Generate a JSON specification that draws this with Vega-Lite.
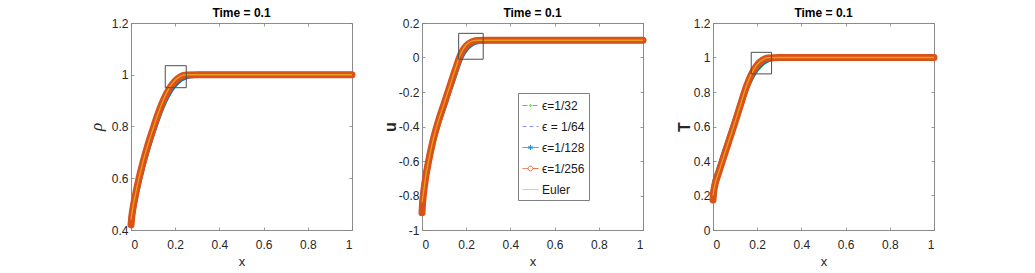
{
"$schema": "https://vega.github.io/schema/vega-lite/v6.json",
"padding": {"left": 86, "top": 6, "right": 0, "bottom": 0},
"bounds": "flush",
"spacing": 70,
"datasets": {
"curves": [
{"v":"rho","s":"ϵ=1/32","x":0,"y":0.44},{"v":"rho","s":"ϵ=1/32","x":0.01,"y":0.487},{"v":"rho","s":"ϵ=1/32","x":0.02,"y":0.53},{"v":"rho","s":"ϵ=1/32","x":0.035,"y":0.587},{"v":"rho","s":"ϵ=1/32","x":0.05,"y":0.638},{"v":"rho","s":"ϵ=1/32","x":0.075,"y":0.713},{"v":"rho","s":"ϵ=1/32","x":0.1,"y":0.779},{"v":"rho","s":"ϵ=1/32","x":0.125,"y":0.84},{"v":"rho","s":"ϵ=1/32","x":0.15,"y":0.892},{"v":"rho","s":"ϵ=1/32","x":0.175,"y":0.932},{"v":"rho","s":"ϵ=1/32","x":0.2,"y":0.96},{"v":"rho","s":"ϵ=1/32","x":0.225,"y":0.98},{"v":"rho","s":"ϵ=1/32","x":0.25,"y":0.992},{"v":"rho","s":"ϵ=1/32","x":0.275,"y":0.998},{"v":"rho","s":"ϵ=1/32","x":0.3,"y":1},{"v":"rho","s":"ϵ=1/32","x":1,"y":1},
{"v":"rho","s":"ϵ = 1/64","x":0,"y":0.43},{"v":"rho","s":"ϵ = 1/64","x":0.01,"y":0.487},{"v":"rho","s":"ϵ = 1/64","x":0.02,"y":0.532},{"v":"rho","s":"ϵ = 1/64","x":0.035,"y":0.59},{"v":"rho","s":"ϵ = 1/64","x":0.05,"y":0.643},{"v":"rho","s":"ϵ = 1/64","x":0.075,"y":0.72},{"v":"rho","s":"ϵ = 1/64","x":0.1,"y":0.787},{"v":"rho","s":"ϵ = 1/64","x":0.125,"y":0.85},{"v":"rho","s":"ϵ = 1/64","x":0.15,"y":0.902},{"v":"rho","s":"ϵ = 1/64","x":0.175,"y":0.942},{"v":"rho","s":"ϵ = 1/64","x":0.2,"y":0.97},{"v":"rho","s":"ϵ = 1/64","x":0.225,"y":0.988},{"v":"rho","s":"ϵ = 1/64","x":0.25,"y":0.996},{"v":"rho","s":"ϵ = 1/64","x":0.3,"y":1},{"v":"rho","s":"ϵ = 1/64","x":1,"y":1},
{"v":"rho","s":"ϵ=1/128","x":0,"y":0.43},{"v":"rho","s":"ϵ=1/128","x":0.004,"y":0.455},{"v":"rho","s":"ϵ=1/128","x":0.01,"y":0.485},{"v":"rho","s":"ϵ=1/128","x":0.02,"y":0.53},{"v":"rho","s":"ϵ=1/128","x":0.035,"y":0.588},{"v":"rho","s":"ϵ=1/128","x":0.05,"y":0.64},{"v":"rho","s":"ϵ=1/128","x":0.075,"y":0.716},{"v":"rho","s":"ϵ=1/128","x":0.1,"y":0.783},{"v":"rho","s":"ϵ=1/128","x":0.125,"y":0.845},{"v":"rho","s":"ϵ=1/128","x":0.15,"y":0.897},{"v":"rho","s":"ϵ=1/128","x":0.175,"y":0.937},{"v":"rho","s":"ϵ=1/128","x":0.2,"y":0.965},{"v":"rho","s":"ϵ=1/128","x":0.225,"y":0.984},{"v":"rho","s":"ϵ=1/128","x":0.25,"y":0.994},{"v":"rho","s":"ϵ=1/128","x":0.275,"y":0.998},{"v":"rho","s":"ϵ=1/128","x":0.3,"y":1},{"v":"rho","s":"ϵ=1/128","x":1,"y":1},
{"v":"rho","s":"ϵ=1/256","x":0,"y":0.42},{"v":"rho","s":"ϵ=1/256","x":0.004,"y":0.455},{"v":"rho","s":"ϵ=1/256","x":0.01,"y":0.49},{"v":"rho","s":"ϵ=1/256","x":0.02,"y":0.535},{"v":"rho","s":"ϵ=1/256","x":0.035,"y":0.595},{"v":"rho","s":"ϵ=1/256","x":0.05,"y":0.648},{"v":"rho","s":"ϵ=1/256","x":0.075,"y":0.725},{"v":"rho","s":"ϵ=1/256","x":0.1,"y":0.792},{"v":"rho","s":"ϵ=1/256","x":0.125,"y":0.855},{"v":"rho","s":"ϵ=1/256","x":0.15,"y":0.908},{"v":"rho","s":"ϵ=1/256","x":0.175,"y":0.948},{"v":"rho","s":"ϵ=1/256","x":0.2,"y":0.976},{"v":"rho","s":"ϵ=1/256","x":0.225,"y":0.993},{"v":"rho","s":"ϵ=1/256","x":0.25,"y":0.999},{"v":"rho","s":"ϵ=1/256","x":0.3,"y":1},{"v":"rho","s":"ϵ=1/256","x":0.6,"y":1},{"v":"rho","s":"ϵ=1/256","x":1,"y":1},
{"v":"rho","s":"Euler","x":0,"y":0.44},{"v":"rho","s":"Euler","x":0.01,"y":0.495},{"v":"rho","s":"Euler","x":0.02,"y":0.538},{"v":"rho","s":"Euler","x":0.035,"y":0.597},{"v":"rho","s":"Euler","x":0.05,"y":0.65},{"v":"rho","s":"Euler","x":0.075,"y":0.726},{"v":"rho","s":"Euler","x":0.1,"y":0.793},{"v":"rho","s":"Euler","x":0.125,"y":0.856},{"v":"rho","s":"Euler","x":0.15,"y":0.91},{"v":"rho","s":"Euler","x":0.175,"y":0.952},{"v":"rho","s":"Euler","x":0.2,"y":0.98},{"v":"rho","s":"Euler","x":0.225,"y":0.995},{"v":"rho","s":"Euler","x":0.25,"y":1},{"v":"rho","s":"Euler","x":0.3,"y":1},{"v":"rho","s":"Euler","x":1,"y":1},

{"v":"u","s":"ϵ=1/32","x":0,"y":-0.85},{"v":"u","s":"ϵ=1/32","x":0.006,"y":-0.785},{"v":"u","s":"ϵ=1/32","x":0.016,"y":-0.69},{"v":"u","s":"ϵ=1/32","x":0.03,"y":-0.597},{"v":"u","s":"ϵ=1/32","x":0.05,"y":-0.483},{"v":"u","s":"ϵ=1/32","x":0.075,"y":-0.372},{"v":"u","s":"ϵ=1/32","x":0.1,"y":-0.278},{"v":"u","s":"ϵ=1/32","x":0.125,"y":-0.183},{"v":"u","s":"ϵ=1/32","x":0.15,"y":-0.09},{"v":"u","s":"ϵ=1/32","x":0.175,"y":-0.002},{"v":"u","s":"ϵ=1/32","x":0.2,"y":0.05},{"v":"u","s":"ϵ=1/32","x":0.225,"y":0.079},{"v":"u","s":"ϵ=1/32","x":0.25,"y":0.092},{"v":"u","s":"ϵ=1/32","x":0.275,"y":0.097},{"v":"u","s":"ϵ=1/32","x":0.3,"y":0.1},{"v":"u","s":"ϵ=1/32","x":1,"y":0.1},
{"v":"u","s":"ϵ = 1/64","x":0,"y":-0.86},{"v":"u","s":"ϵ = 1/64","x":0.006,"y":-0.79},{"v":"u","s":"ϵ = 1/64","x":0.016,"y":-0.697},{"v":"u","s":"ϵ = 1/64","x":0.03,"y":-0.6},{"v":"u","s":"ϵ = 1/64","x":0.05,"y":-0.483},{"v":"u","s":"ϵ = 1/64","x":0.075,"y":-0.369},{"v":"u","s":"ϵ = 1/64","x":0.1,"y":-0.273},{"v":"u","s":"ϵ = 1/64","x":0.125,"y":-0.176},{"v":"u","s":"ϵ = 1/64","x":0.15,"y":-0.08},{"v":"u","s":"ϵ = 1/64","x":0.175,"y":0.01},{"v":"u","s":"ϵ = 1/64","x":0.2,"y":0.062},{"v":"u","s":"ϵ = 1/64","x":0.225,"y":0.087},{"v":"u","s":"ϵ = 1/64","x":0.25,"y":0.097},{"v":"u","s":"ϵ = 1/64","x":0.3,"y":0.1},{"v":"u","s":"ϵ = 1/64","x":1,"y":0.1},
{"v":"u","s":"ϵ=1/128","x":0,"y":-0.87},{"v":"u","s":"ϵ=1/128","x":0.006,"y":-0.79},{"v":"u","s":"ϵ=1/128","x":0.016,"y":-0.695},{"v":"u","s":"ϵ=1/128","x":0.03,"y":-0.6},{"v":"u","s":"ϵ=1/128","x":0.05,"y":-0.485},{"v":"u","s":"ϵ=1/128","x":0.075,"y":-0.372},{"v":"u","s":"ϵ=1/128","x":0.1,"y":-0.277},{"v":"u","s":"ϵ=1/128","x":0.125,"y":-0.18},{"v":"u","s":"ϵ=1/128","x":0.15,"y":-0.086},{"v":"u","s":"ϵ=1/128","x":0.175,"y":0.003},{"v":"u","s":"ϵ=1/128","x":0.2,"y":0.055},{"v":"u","s":"ϵ=1/128","x":0.225,"y":0.082},{"v":"u","s":"ϵ=1/128","x":0.25,"y":0.094},{"v":"u","s":"ϵ=1/128","x":0.275,"y":0.098},{"v":"u","s":"ϵ=1/128","x":0.3,"y":0.1},{"v":"u","s":"ϵ=1/128","x":1,"y":0.1},
{"v":"u","s":"ϵ=1/256","x":0,"y":-0.9},{"v":"u","s":"ϵ=1/256","x":0.002,"y":-0.855},{"v":"u","s":"ϵ=1/256","x":0.006,"y":-0.8},{"v":"u","s":"ϵ=1/256","x":0.016,"y":-0.7},{"v":"u","s":"ϵ=1/256","x":0.03,"y":-0.6},{"v":"u","s":"ϵ=1/256","x":0.05,"y":-0.48},{"v":"u","s":"ϵ=1/256","x":0.075,"y":-0.365},{"v":"u","s":"ϵ=1/256","x":0.1,"y":-0.268},{"v":"u","s":"ϵ=1/256","x":0.125,"y":-0.17},{"v":"u","s":"ϵ=1/256","x":0.15,"y":-0.073},{"v":"u","s":"ϵ=1/256","x":0.175,"y":0.018},{"v":"u","s":"ϵ=1/256","x":0.2,"y":0.068},{"v":"u","s":"ϵ=1/256","x":0.225,"y":0.091},{"v":"u","s":"ϵ=1/256","x":0.25,"y":0.099},{"v":"u","s":"ϵ=1/256","x":0.3,"y":0.1},{"v":"u","s":"ϵ=1/256","x":0.6,"y":0.1},{"v":"u","s":"ϵ=1/256","x":1,"y":0.1},
{"v":"u","s":"Euler","x":0,"y":-0.84},{"v":"u","s":"Euler","x":0.006,"y":-0.79},{"v":"u","s":"Euler","x":0.016,"y":-0.695},{"v":"u","s":"Euler","x":0.03,"y":-0.598},{"v":"u","s":"Euler","x":0.05,"y":-0.478},{"v":"u","s":"Euler","x":0.075,"y":-0.363},{"v":"u","s":"Euler","x":0.1,"y":-0.266},{"v":"u","s":"Euler","x":0.125,"y":-0.168},{"v":"u","s":"Euler","x":0.15,"y":-0.07},{"v":"u","s":"Euler","x":0.175,"y":0.022},{"v":"u","s":"Euler","x":0.2,"y":0.074},{"v":"u","s":"Euler","x":0.225,"y":0.095},{"v":"u","s":"Euler","x":0.25,"y":0.1},{"v":"u","s":"Euler","x":0.3,"y":0.1},{"v":"u","s":"Euler","x":1,"y":0.1},

{"v":"T","s":"ϵ=1/32","x":0,"y":0.21},{"v":"T","s":"ϵ=1/32","x":0.01,"y":0.285},{"v":"T","s":"ϵ=1/32","x":0.025,"y":0.345},{"v":"T","s":"ϵ=1/32","x":0.05,"y":0.442},{"v":"T","s":"ϵ=1/32","x":0.075,"y":0.537},{"v":"T","s":"ϵ=1/32","x":0.1,"y":0.632},{"v":"T","s":"ϵ=1/32","x":0.125,"y":0.726},{"v":"T","s":"ϵ=1/32","x":0.15,"y":0.814},{"v":"T","s":"ϵ=1/32","x":0.175,"y":0.876},{"v":"T","s":"ϵ=1/32","x":0.2,"y":0.925},{"v":"T","s":"ϵ=1/32","x":0.225,"y":0.96},{"v":"T","s":"ϵ=1/32","x":0.25,"y":0.982},{"v":"T","s":"ϵ=1/32","x":0.275,"y":0.993},{"v":"T","s":"ϵ=1/32","x":0.3,"y":0.998},{"v":"T","s":"ϵ=1/32","x":0.35,"y":1},{"v":"T","s":"ϵ=1/32","x":1,"y":1},
{"v":"T","s":"ϵ = 1/64","x":0,"y":0.2},{"v":"T","s":"ϵ = 1/64","x":0.01,"y":0.278},{"v":"T","s":"ϵ = 1/64","x":0.025,"y":0.338},{"v":"T","s":"ϵ = 1/64","x":0.05,"y":0.436},{"v":"T","s":"ϵ = 1/64","x":0.075,"y":0.532},{"v":"T","s":"ϵ = 1/64","x":0.1,"y":0.628},{"v":"T","s":"ϵ = 1/64","x":0.125,"y":0.725},{"v":"T","s":"ϵ = 1/64","x":0.15,"y":0.818},{"v":"T","s":"ϵ = 1/64","x":0.175,"y":0.886},{"v":"T","s":"ϵ = 1/64","x":0.2,"y":0.936},{"v":"T","s":"ϵ = 1/64","x":0.225,"y":0.968},{"v":"T","s":"ϵ = 1/64","x":0.25,"y":0.987},{"v":"T","s":"ϵ = 1/64","x":0.275,"y":0.996},{"v":"T","s":"ϵ = 1/64","x":0.3,"y":1},{"v":"T","s":"ϵ = 1/64","x":1,"y":1},
{"v":"T","s":"ϵ=1/128","x":0,"y":0.2},{"v":"T","s":"ϵ=1/128","x":0.01,"y":0.28},{"v":"T","s":"ϵ=1/128","x":0.025,"y":0.34},{"v":"T","s":"ϵ=1/128","x":0.05,"y":0.438},{"v":"T","s":"ϵ=1/128","x":0.075,"y":0.534},{"v":"T","s":"ϵ=1/128","x":0.1,"y":0.63},{"v":"T","s":"ϵ=1/128","x":0.125,"y":0.727},{"v":"T","s":"ϵ=1/128","x":0.15,"y":0.822},{"v":"T","s":"ϵ=1/128","x":0.175,"y":0.892},{"v":"T","s":"ϵ=1/128","x":0.2,"y":0.942},{"v":"T","s":"ϵ=1/128","x":0.225,"y":0.973},{"v":"T","s":"ϵ=1/128","x":0.25,"y":0.99},{"v":"T","s":"ϵ=1/128","x":0.275,"y":0.997},{"v":"T","s":"ϵ=1/128","x":0.3,"y":1},{"v":"T","s":"ϵ=1/128","x":1,"y":1},
{"v":"T","s":"ϵ=1/256","x":0,"y":0.174},{"v":"T","s":"ϵ=1/256","x":0.003,"y":0.22},{"v":"T","s":"ϵ=1/256","x":0.01,"y":0.268},{"v":"T","s":"ϵ=1/256","x":0.025,"y":0.33},{"v":"T","s":"ϵ=1/256","x":0.05,"y":0.43},{"v":"T","s":"ϵ=1/256","x":0.075,"y":0.528},{"v":"T","s":"ϵ=1/256","x":0.1,"y":0.626},{"v":"T","s":"ϵ=1/256","x":0.125,"y":0.728},{"v":"T","s":"ϵ=1/256","x":0.15,"y":0.828},{"v":"T","s":"ϵ=1/256","x":0.175,"y":0.905},{"v":"T","s":"ϵ=1/256","x":0.2,"y":0.957},{"v":"T","s":"ϵ=1/256","x":0.225,"y":0.985},{"v":"T","s":"ϵ=1/256","x":0.25,"y":0.997},{"v":"T","s":"ϵ=1/256","x":0.3,"y":1},{"v":"T","s":"ϵ=1/256","x":0.6,"y":1},{"v":"T","s":"ϵ=1/256","x":1,"y":1},
{"v":"T","s":"Euler","x":0,"y":0.2},{"v":"T","s":"Euler","x":0.01,"y":0.27},{"v":"T","s":"Euler","x":0.025,"y":0.332},{"v":"T","s":"Euler","x":0.05,"y":0.432},{"v":"T","s":"Euler","x":0.075,"y":0.53},{"v":"T","s":"Euler","x":0.1,"y":0.628},{"v":"T","s":"Euler","x":0.125,"y":0.73},{"v":"T","s":"Euler","x":0.15,"y":0.83},{"v":"T","s":"Euler","x":0.175,"y":0.908},{"v":"T","s":"Euler","x":0.2,"y":0.96},{"v":"T","s":"Euler","x":0.225,"y":0.988},{"v":"T","s":"Euler","x":0.25,"y":0.999},{"v":"T","s":"Euler","x":0.3,"y":1},{"v":"T","s":"Euler","x":1,"y":1}
],
"boxes": [
{"v":"rho","x1":0.155,"x2":0.25,"y1":0.95,"y2":1.035},
{"v":"u","x1":0.166,"x2":0.277,"y1":-0.01,"y2":0.14},
{"v":"T","x1":0.173,"x2":0.265,"y1":0.905,"y2":1.03}
]
},
"hconcat": [
{
"width": 221, "height": 207,
"title": "Time = 0.1",
"layer": [
{"data": {"name": "curves"}, "transform": [{"filter": "datum.v === 'rho'"}],
 "mark": {"type": "line", "strokeWidth": 1, "interpolate": "monotone"},
 "encoding": {
  "x": {"field": "x", "type": "quantitative", "scale": {"domain": [0, 1], "nice": false}, "axis": {"values": [0, 0.2, 0.4, 0.6, 0.8, 1], "labelExpr": "'' + datum.value", "title": "x"}},
  "y": {"field": "y", "type": "quantitative", "scale": {"domain": [0.4, 1.2], "nice": false, "zero": false}, "axis": {"values": [0.4, 0.6, 0.8, 1, 1.2], "labelExpr": "'' + datum.value", "title": "ρ", "titleFont": "Liberation Serif", "titleFontStyle": "italic", "titleFontSize": 17, "titlePadding": 6}},
  "color": {"field": "s", "type": "nominal", "scale": {"domain": ["ϵ=1/32", "ϵ = 1/64", "ϵ=1/128", "ϵ=1/256", "Euler"], "range": ["#1ed41e", "#8080ff", "#0072BD", "#D95319", "#EDB120"]}, "legend": null},
  "strokeDash": {"field": "s", "type": "nominal", "scale": {"domain": ["ϵ=1/32", "ϵ = 1/64", "ϵ=1/128", "ϵ=1/256", "Euler"], "range": [[5, 2, 1, 2], [4, 3], [1, 0], [1, 0], [1, 0]]}, "legend": null}
 }},
{"data": {"name": "curves"}, "transform": [{"filter": "datum.v === 'rho' && datum.s === 'ϵ=1/32'"}],
 "mark": {"type": "line", "color": "#1ed41e", "strokeWidth": 3, "strokeCap": "round", "interpolate": "monotone"},
 "encoding": {"x": {"field": "x", "type": "quantitative", "axis": null}, "y": {"field": "y", "type": "quantitative", "axis": null}}},
{"data": {"name": "curves"}, "transform": [{"filter": "datum.v === 'rho' && datum.s === 'ϵ=1/128'"}],
 "mark": {"type": "line", "color": "#0072BD", "strokeWidth": 6, "strokeCap": "round", "interpolate": "monotone"},
 "encoding": {"x": {"field": "x", "type": "quantitative", "axis": null}, "y": {"field": "y", "type": "quantitative", "axis": null}}},
{"data": {"name": "curves"}, "transform": [{"filter": "datum.v === 'rho' && datum.s === 'ϵ=1/256'"}],
 "mark": {"type": "line", "color": "#D95319", "strokeWidth": 7, "strokeCap": "round", "interpolate": "monotone"},
 "encoding": {"x": {"field": "x", "type": "quantitative", "axis": null}, "y": {"field": "y", "type": "quantitative", "axis": null}}},
{"data": {"name": "curves"}, "transform": [{"filter": "datum.v === 'rho' && datum.s === 'Euler'"}],
 "mark": {"type": "line", "color": "#EDB120", "strokeWidth": 1.3, "opacity": 0.8, "interpolate": "monotone"},
 "encoding": {"x": {"field": "x", "type": "quantitative", "axis": null}, "y": {"field": "y", "type": "quantitative", "axis": null}}},
{"data": {"name": "curves"}, "transform": [{"filter": "datum.v === 'rho' && datum.s === 'ϵ=1/256' && datum.x === 0"}],
 "mark": {"type": "point", "shape": "circle", "filled": false, "color": "#D95319", "size": 28, "strokeWidth": 1},
 "encoding": {"x": {"field": "x", "type": "quantitative", "axis": null}, "y": {"field": "y", "type": "quantitative", "axis": null}}},
{"data": {"name": "boxes"}, "transform": [{"filter": "datum.v === 'rho'"}],
 "mark": {"type": "rect", "filled": false, "stroke": "#4d4d4d", "strokeWidth": 1},
 "encoding": {
  "x": {"field": "x1", "type": "quantitative", "axis": {"orient": "top", "values": [0, 0.2, 0.4, 0.6, 0.8, 1], "labels": false, "title": null}},
  "x2": {"field": "x2"},
  "y": {"field": "y1", "type": "quantitative", "axis": {"orient": "right", "values": [0.4, 0.6, 0.8, 1, 1.2], "labels": false, "title": null}},
  "y2": {"field": "y2"}
 }}
],
"resolve": {"axis": {"x": "independent", "y": "independent"}}
},
{
"width": 221, "height": 207,
"title": "Time = 0.1",
"layer": [
{"data": {"name": "curves"}, "transform": [{"filter": "datum.v === 'u'"}],
 "mark": {"type": "line", "strokeWidth": 1, "interpolate": "monotone"},
 "encoding": {
  "x": {"field": "x", "type": "quantitative", "scale": {"domain": [0, 1], "nice": false}, "axis": {"values": [0, 0.2, 0.4, 0.6, 0.8, 1], "labelExpr": "'' + datum.value", "title": "x"}},
  "y": {"field": "y", "type": "quantitative", "scale": {"domain": [-1, 0.2], "nice": false, "zero": false}, "axis": {"values": [-1, -0.8, -0.6, -0.4, -0.2, 0, 0.2], "labelExpr": "'' + datum.value", "title": "u", "titleFontWeight": "bold", "titleFontSize": 16, "titlePadding": 0}},
  "color": {"field": "s", "type": "nominal", "scale": {"domain": ["ϵ=1/32", "ϵ = 1/64", "ϵ=1/128", "ϵ=1/256", "Euler"], "range": ["#1ed41e", "#8080ff", "#0072BD", "#D95319", "#EDB120"]},
   "legend": {"title": null, "orient": "none", "legendX": 96, "legendY": 70, "padding": 4, "strokeColor": "#7f7f7f", "fillColor": "#ffffff", "labelFont": "Liberation Sans", "labelFontSize": 12, "labelColor": "#1a1a1a", "symbolSize": 256, "symbolStrokeWidth": 1, "rowPadding": 6, "labelOffset": 3, "symbolType": "stroke",
    "encode": {"symbols": {"update": {
      "shape": {"signal": "datum.value === 'ϵ=1/256' ? 'M-1,0H-0.3M0.3,0H1M0.3,0A0.3,0.3 0 1,1 -0.3,0A0.3,0.3 0 1,1 0.3,0' : datum.value === 'ϵ=1/128' ? 'M-1,0H1M0,-0.32V0.32M-0.28,-0.16L0.28,0.16M-0.28,0.16L0.28,-0.16' : datum.value === 'ϵ=1/32' ? 'M-1,0H1M0.12,0A0.12,0.12 0 1,1 -0.12,0A0.12,0.12 0 1,1 0.12,0' : 'M-1,0H1'"},
      "strokeDash": {"signal": "datum.value === 'ϵ=1/32' ? [5, 2, 1, 2] : datum.value === 'ϵ = 1/64' ? [4, 3] : [1, 0]"},
      "strokeWidth": {"value": 1},
      "opacity": {"value": 0.85}
    }}}}},
  "strokeDash": {"field": "s", "type": "nominal", "scale": {"domain": ["ϵ=1/32", "ϵ = 1/64", "ϵ=1/128", "ϵ=1/256", "Euler"], "range": [[5, 2, 1, 2], [4, 3], [1, 0], [1, 0], [1, 0]]}, "legend": null}
 }},
{"data": {"name": "curves"}, "transform": [{"filter": "datum.v === 'u' && datum.s === 'ϵ=1/32'"}],
 "mark": {"type": "line", "color": "#1ed41e", "strokeWidth": 3, "strokeCap": "round", "interpolate": "monotone"},
 "encoding": {"x": {"field": "x", "type": "quantitative", "axis": null}, "y": {"field": "y", "type": "quantitative", "axis": null}}},
{"data": {"name": "curves"}, "transform": [{"filter": "datum.v === 'u' && datum.s === 'ϵ=1/128'"}],
 "mark": {"type": "line", "color": "#0072BD", "strokeWidth": 6, "strokeCap": "round", "interpolate": "monotone"},
 "encoding": {"x": {"field": "x", "type": "quantitative", "axis": null}, "y": {"field": "y", "type": "quantitative", "axis": null}}},
{"data": {"name": "curves"}, "transform": [{"filter": "datum.v === 'u' && datum.s === 'ϵ=1/256'"}],
 "mark": {"type": "line", "color": "#D95319", "strokeWidth": 7, "strokeCap": "round", "interpolate": "monotone"},
 "encoding": {"x": {"field": "x", "type": "quantitative", "axis": null}, "y": {"field": "y", "type": "quantitative", "axis": null}}},
{"data": {"name": "curves"}, "transform": [{"filter": "datum.v === 'u' && datum.s === 'Euler'"}],
 "mark": {"type": "line", "color": "#EDB120", "strokeWidth": 1.3, "opacity": 0.8, "interpolate": "monotone"},
 "encoding": {"x": {"field": "x", "type": "quantitative", "axis": null}, "y": {"field": "y", "type": "quantitative", "axis": null}}},
{"data": {"name": "curves"}, "transform": [{"filter": "datum.v === 'u' && datum.s === 'ϵ=1/256' && datum.x === 0"}],
 "mark": {"type": "point", "shape": "circle", "filled": false, "color": "#D95319", "size": 28, "strokeWidth": 1},
 "encoding": {"x": {"field": "x", "type": "quantitative", "axis": null}, "y": {"field": "y", "type": "quantitative", "axis": null}}},
{"data": {"name": "boxes"}, "transform": [{"filter": "datum.v === 'u'"}],
 "mark": {"type": "rect", "filled": false, "stroke": "#4d4d4d", "strokeWidth": 1},
 "encoding": {
  "x": {"field": "x1", "type": "quantitative", "axis": {"orient": "top", "values": [0, 0.2, 0.4, 0.6, 0.8, 1], "labels": false, "title": null}},
  "x2": {"field": "x2"},
  "y": {"field": "y1", "type": "quantitative", "axis": {"orient": "right", "values": [-1, -0.8, -0.6, -0.4, -0.2, 0, 0.2], "labels": false, "title": null}},
  "y2": {"field": "y2"}
 }}
],
"resolve": {"axis": {"x": "independent", "y": "independent"}}
},
{
"width": 221, "height": 207,
"title": "Time = 0.1",
"layer": [
{"data": {"name": "curves"}, "transform": [{"filter": "datum.v === 'T'"}],
 "mark": {"type": "line", "strokeWidth": 1, "interpolate": "monotone"},
 "encoding": {
  "x": {"field": "x", "type": "quantitative", "scale": {"domain": [0, 1], "nice": false}, "axis": {"values": [0, 0.2, 0.4, 0.6, 0.8, 1], "labelExpr": "'' + datum.value", "title": "x"}},
  "y": {"field": "y", "type": "quantitative", "scale": {"domain": [0, 1.2], "nice": false, "zero": false}, "axis": {"values": [0, 0.2, 0.4, 0.6, 0.8, 1, 1.2], "labelExpr": "'' + datum.value", "title": "T", "titleFontWeight": "bold", "titleFontSize": 16, "titlePadding": 1}},
  "color": {"field": "s", "type": "nominal", "scale": {"domain": ["ϵ=1/32", "ϵ = 1/64", "ϵ=1/128", "ϵ=1/256", "Euler"], "range": ["#1ed41e", "#8080ff", "#0072BD", "#D95319", "#EDB120"]}, "legend": null},
  "strokeDash": {"field": "s", "type": "nominal", "scale": {"domain": ["ϵ=1/32", "ϵ = 1/64", "ϵ=1/128", "ϵ=1/256", "Euler"], "range": [[5, 2, 1, 2], [4, 3], [1, 0], [1, 0], [1, 0]]}, "legend": null}
 }},
{"data": {"name": "curves"}, "transform": [{"filter": "datum.v === 'T' && datum.s === 'ϵ=1/32'"}],
 "mark": {"type": "line", "color": "#1ed41e", "strokeWidth": 3, "strokeCap": "round", "interpolate": "monotone"},
 "encoding": {"x": {"field": "x", "type": "quantitative", "axis": null}, "y": {"field": "y", "type": "quantitative", "axis": null}}},
{"data": {"name": "curves"}, "transform": [{"filter": "datum.v === 'T' && datum.s === 'ϵ=1/128'"}],
 "mark": {"type": "line", "color": "#0072BD", "strokeWidth": 6, "strokeCap": "round", "interpolate": "monotone"},
 "encoding": {"x": {"field": "x", "type": "quantitative", "axis": null}, "y": {"field": "y", "type": "quantitative", "axis": null}}},
{"data": {"name": "curves"}, "transform": [{"filter": "datum.v === 'T' && datum.s === 'ϵ=1/256'"}],
 "mark": {"type": "line", "color": "#D95319", "strokeWidth": 7, "strokeCap": "round", "interpolate": "monotone"},
 "encoding": {"x": {"field": "x", "type": "quantitative", "axis": null}, "y": {"field": "y", "type": "quantitative", "axis": null}}},
{"data": {"name": "curves"}, "transform": [{"filter": "datum.v === 'T' && datum.s === 'Euler'"}],
 "mark": {"type": "line", "color": "#EDB120", "strokeWidth": 1.3, "opacity": 0.8, "interpolate": "monotone"},
 "encoding": {"x": {"field": "x", "type": "quantitative", "axis": null}, "y": {"field": "y", "type": "quantitative", "axis": null}}},
{"data": {"name": "curves"}, "transform": [{"filter": "datum.v === 'T' && datum.s === 'ϵ=1/256' && datum.x === 0"}],
 "mark": {"type": "point", "shape": "circle", "filled": false, "color": "#D95319", "size": 28, "strokeWidth": 1},
 "encoding": {"x": {"field": "x", "type": "quantitative", "axis": null}, "y": {"field": "y", "type": "quantitative", "axis": null}}},
{"data": {"name": "boxes"}, "transform": [{"filter": "datum.v === 'T'"}],
 "mark": {"type": "rect", "filled": false, "stroke": "#4d4d4d", "strokeWidth": 1},
 "encoding": {
  "x": {"field": "x1", "type": "quantitative", "axis": {"orient": "top", "values": [0, 0.2, 0.4, 0.6, 0.8, 1], "labels": false, "title": null}},
  "x2": {"field": "x2"},
  "y": {"field": "y1", "type": "quantitative", "axis": {"orient": "right", "values": [0, 0.2, 0.4, 0.6, 0.8, 1, 1.2], "labels": false, "title": null}},
  "y2": {"field": "y2"}
 }}
],
"resolve": {"axis": {"x": "independent", "y": "independent"}}
}
],
"resolve": {"scale": {"color": "independent", "strokeDash": "independent"}},
"config": {
 "background": "#ffffff",
 "view": {"stroke": "#8c8c8c", "strokeWidth": 1},
 "title": {"font": "Liberation Sans", "fontSize": 12, "fontWeight": "bold", "color": "#000000", "offset": -3},
 "axis": {"domain": false, "grid": false, "tickColor": "#808080", "tickSize": -3, "tickWidth": 0.8, "labelFont": "Liberation Sans", "labelFontSize": 12, "labelColor": "#262626", "labelPadding": 6, "titleFont": "Liberation Sans", "titleColor": "#262626", "titleFontWeight": "normal"},
 "axisX": {"titleFontSize": 13, "titlePadding": 5, "labelPadding": 12}
}
}
